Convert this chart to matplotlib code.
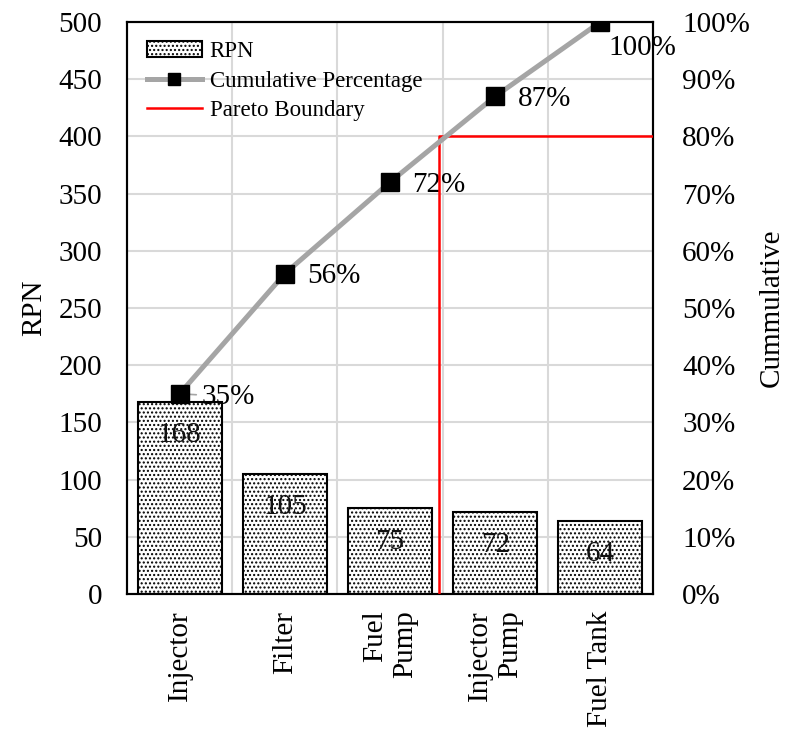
import numpy as np
import matplotlib
matplotlib.use("Agg")
import matplotlib.pyplot as plt

# data
categories = ["Injector", "Filter", "Fuel\nPump", "Injector\nPump", "Fuel Tank"]
rpn = [168, 105, 75, 72, 64]
cum_pct = [35, 56, 72, 87, 100]
pct_labels = ["35%", "56%", "72%", "87%", "100%"]
pareto_x = 2.47      # position of the vertical boundary (category units)
pareto_pct = 80      # boundary level on the right axis

plt.rcParams['font.family'] = ['Liberation Serif', 'DejaVu Serif']
plt.rcParams['hatch.linewidth'] = 1.0

FS = 21

fig = plt.figure(figsize=(7.89, 7.30), dpi=100)
ax = fig.add_axes([0.161, 0.1863, 0.6666, 0.7836])
ax2 = ax.twinx()

x = np.arange(len(categories))

# --- bars (left axis) ---
bars = ax.bar(x, rpn, width=0.8, color='white', edgecolor='black',
              linewidth=1.5, hatch='....', label='RPN', zorder=2)
for xi, v in zip(x, rpn):
    ax.annotate(str(v), xy=(xi, v), xytext=(0, -24), textcoords='offset points',
                ha='center', va='center', fontsize=FS, color='#111111', zorder=3)

ax.set_xlim(-0.5, len(categories) - 0.5)
ax.set_ylim(0, 500)
ax.set_yticks(np.arange(0, 501, 50))
ax.set_xticks(x)
ax.set_xticklabels(categories, rotation=90, fontsize=FS, multialignment='right')
ax.tick_params(axis='both', length=0, labelsize=FS, pad=12)
ax.tick_params(axis='y', pad=18)
ax.set_ylabel("RPN", fontsize=FS, labelpad=8)

# grid: horizontal at ticks, vertical at category boundaries
for yv in np.arange(50, 501, 50):
    ax.axhline(yv, color='#D9D9D9', linewidth=1.5, zorder=0)
for xb in np.arange(0.5, len(categories) - 0.5, 1):
    ax.axvline(xb, color='#D9D9D9', linewidth=1.5, zorder=0)

for sp in ax.spines.values():
    sp.set_linewidth(1.5)
for sp in ax2.spines.values():
    sp.set_linewidth(1.5)

# --- cumulative line (right axis) ---
line, = ax2.plot(x, cum_pct, color='#A5A5A5', linewidth=3.6, marker='s',
                 markersize=13, markerfacecolor='black', markeredgecolor='black',
                 label='Cumulative Percentage', zorder=4)
for i, (xi, p, lab) in enumerate(zip(x, cum_pct, pct_labels)):
    if i == len(x) - 1:
        off = (6, -19)
    else:
        off = (16, -2)
    if i == 0:
        ax2.annotate(lab, xy=(xi, p), xytext=off, textcoords='offset points',
                     ha='left', va='center', fontsize=FS,
                     arrowprops=dict(arrowstyle='-', color='#A5A5A5', lw=1.2,
                                     shrinkA=2, shrinkB=6))
    else:
        ax2.annotate(lab, xy=(xi, p), xytext=off, textcoords='offset points',
                     ha='left', va='center', fontsize=FS)

# --- pareto boundary ---
red, = ax2.plot([pareto_x, pareto_x, len(categories) - 0.5], [0, pareto_pct, pareto_pct],
                color='#FF0000', linewidth=1.8, label='Pareto Boundary', zorder=3)

ax2.set_ylim(0, 100)
ax2.set_yticks(np.arange(0, 101, 10))
ax2.set_yticklabels([f"{v}%" for v in range(0, 101, 10)])
ax2.tick_params(axis='y', length=0, labelsize=FS, pad=21)
ax2.set_ylabel("Cummulative", fontsize=FS, labelpad=6)

leg = ax2.legend([bars, line, red], ['RPN', 'Cumulative Percentage', 'Pareto Boundary'],
                 loc='upper left', bbox_to_anchor=(0.0, 1.0), frameon=False,
                 fontsize=16.5, handlelength=2.4, handletextpad=0.35, labelspacing=0.35,
                 markerscale=0.7, borderaxespad=0.45)

fig.savefig("out.png", dpi=100)
